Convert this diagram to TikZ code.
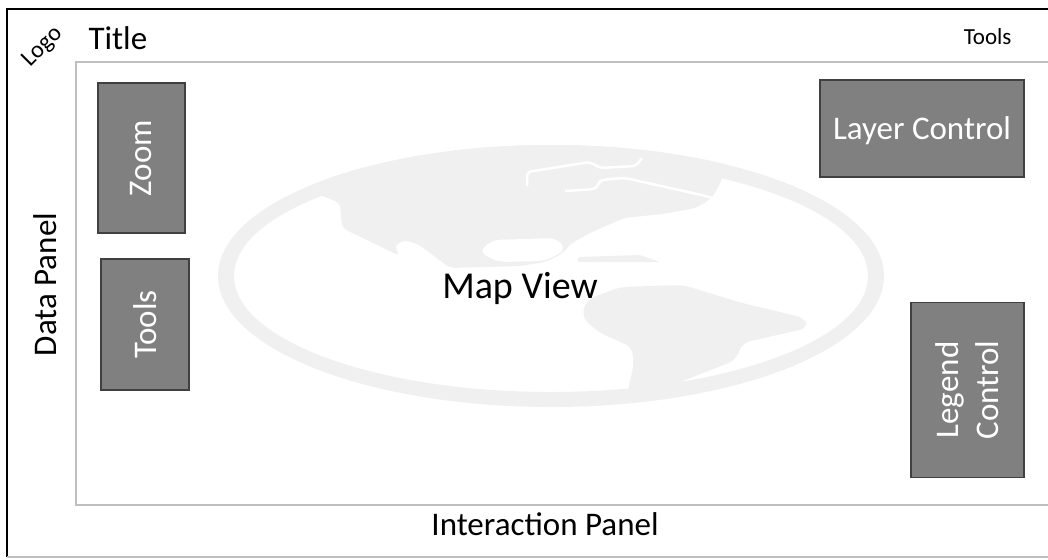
\documentclass[tikz,border=0pt]{standalone}
\usepackage{fontspec}
\setmainfont{Carlito}

\tikzset{
  panel/.style={font=\fontsize{33}{38}\selectfont},
  widget/.style={draw=black!75, line width=1.2pt, fill=black!50, text=white,
    font=\fontsize{33}{40}\selectfont, inner sep=0pt, align=center},
  globe/.style={fill=black!6},
  frameline/.style={draw=black!25, line width=1.2pt},
}

\begin{document}
\begin{tikzpicture}[x=1pt, y=-1pt]
  \clip (0,0) rectangle (1048,559);
  \fill[white] (0,0) rectangle (1048,559);

  % faint globe behind the map
  \fill[globe, even odd rule] (551,276) ellipse [x radius=333, y radius=131]
                              (551,276) ellipse [x radius=317, y radius=116];
  \begin{scope}
    \clip (551,276) ellipse [x radius=333, y radius=131];
    % north america
    \fill[globe, rounded corners=5pt] (318,194) -- (340,203) -- (342,228) -- (400,256)
      -- (394,246) -- (404,240) -- (418,244) -- (450,268) -- (520,266) -- (545,262)
      -- (560,255) -- (572,243) -- (590,233) -- (624,218) -- (662,214) -- (696,208)
      -- (712,198) -- (722,180) -- (730,120) -- (300,120) -- cycle;
    \fill[white, rounded corners=8pt] (479,252) -- (492,240) -- (557,238) -- (566,250)
      -- (545,261) -- (498,262) -- cycle;
    \draw[white, line width=2.5pt, rounded corners=4pt] (527,186) -- (527,172) -- (590,162)
      -- (600,168) -- (636,166) -- (642,158);
    \draw[white, line width=2.5pt, rounded corners=4pt] (565,191) -- (596,189) -- (600,180)
      -- (625,178) -- (706,196) -- (718,200);
    \fill[globe, rounded corners=2pt] (578,257) -- (640,255) -- (660,262) -- (578,262) -- cycle;
    % south america
    \fill[globe, rounded corners=8pt] (582,318) -- (586,300) -- (620,287) -- (683,285)
      -- (742,303) -- (805,318) -- (808,328) -- (742,343) -- (736,360) -- (660,390)
      -- (660,400) -- (626,400) -- (634,363) -- (632,347) -- (600,333) -- cycle;
  \end{scope}

  % page and map frames
  \draw[frameline] (1060,62) -| (76,505) -- (1060,505);
  \draw[line width=1.5pt] (1060,9) -- (7,9) -- (7,557);
  \draw[frameline] (7,557) -- (1060,557);

  % header, side and footer labels
  \node[rotate=45, font=\fontsize{24}{26}\selectfont] (logo) at (43,47) {Logo};
  \node[panel, anchor=base west] (title) at (85,50) {Title};
  \node[font=\fontsize{23}{26}\selectfont, anchor=base east] (toptools) at (1015,45) {Tools};
  \node[panel, rotate=90, anchor=base] (data) at (56.5,284.5) {Data Panel};
  \node[panel, anchor=base] (interaction) at (545,535) {Interaction Panel};
  \node[font=\fontsize{38}{44}\selectfont, anchor=base] (mapview) at (520,298) {Map View};

  % map widgets
  \node[widget, rotate=90, minimum width=150pt, minimum height=87pt] (zoom) at (141.5,158) {Zoom};
  \node[widget, rotate=90, minimum width=131pt, minimum height=88pt] (toolbox) at (145,324.5) {Tools};
  \node[widget, minimum width=204pt, minimum height=97pt, text depth=0pt] (layers) at (922,128.5) {Layer Control};
  \node[widget, rotate=90, minimum width=175pt, minimum height=113pt] (legend) at (967.5,390) {Legend\\Control};
\end{tikzpicture}
\end{document}
